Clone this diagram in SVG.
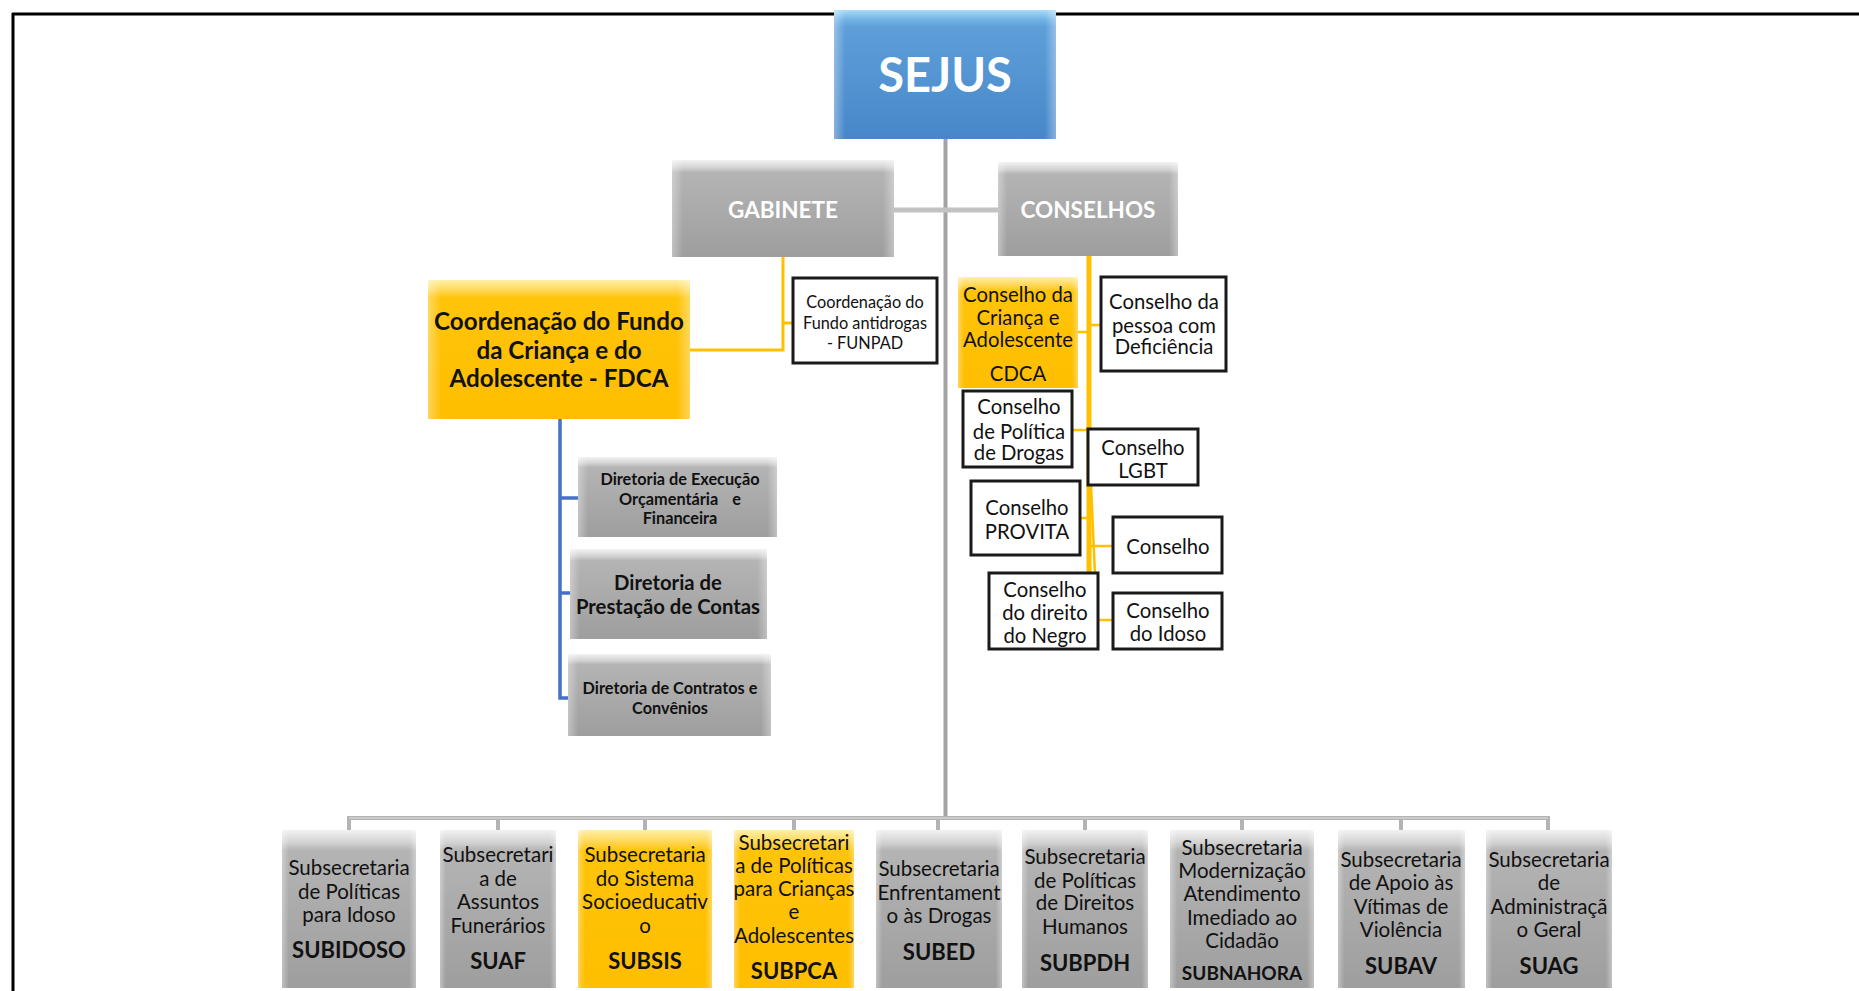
<svg xmlns="http://www.w3.org/2000/svg" width="1859" height="991" viewBox="0 0 1859 991">
<defs>
<linearGradient id="gGray" x1="0" y1="0" x2="0" y2="1">
<stop offset="0" stop-color="#f2f2f2"/>
<stop offset="0.08" stop-color="#d2d2d2"/>
<stop offset="0.13" stop-color="#b4b4b4"/>
<stop offset="1" stop-color="#9e9e9e"/>
</linearGradient>
<linearGradient id="gYel" x1="0" y1="0" x2="0" y2="1">
<stop offset="0" stop-color="#fff0a8"/>
<stop offset="0.08" stop-color="#ffd54f"/>
<stop offset="0.13" stop-color="#ffc409"/>
<stop offset="1" stop-color="#ffbe00"/>
</linearGradient>
<linearGradient id="gBlue" x1="0" y1="0" x2="0" y2="1">
<stop offset="0" stop-color="#a9dcf7"/>
<stop offset="0.07" stop-color="#75b5e6"/>
<stop offset="0.13" stop-color="#5e9fd9"/>
<stop offset="1" stop-color="#4787c9"/>
</linearGradient>
<linearGradient id="gEdge" x1="0" y1="0" x2="1" y2="0">
<stop offset="0" stop-color="#ffffff" stop-opacity="0.35"/>
<stop offset="0.05" stop-color="#ffffff" stop-opacity="0"/>
<stop offset="0.95" stop-color="#ffffff" stop-opacity="0"/>
<stop offset="1" stop-color="#ffffff" stop-opacity="0.35"/>
</linearGradient>
</defs>
<style>
.t{font-family:Lato,"Liberation Sans",sans-serif;fill:#111;text-anchor:middle}
.w{fill:#ffffff}
.b{font-weight:bold}
.s20{font-size:20.5px}
.s19{font-size:20.3px}
.s15{font-size:16.3px}
.sb22{font-size:22px;font-weight:bold}
.gray{fill:url(#gGray)}
.yel{fill:url(#gYel)}
.blue{fill:url(#gBlue)}
.edge{fill:url(#gEdge)}
.out{fill:#ffffff;stroke:#1a1a1a;stroke-width:3}
.cg{stroke:#a3a3a3;stroke-width:4;fill:none}
.cbus{stroke:#b3b3b3;stroke-width:4;fill:none}
.cy{stroke:#ffc000;stroke-width:3;fill:none}
.cyt{stroke:#ffc000;stroke-width:2.5;fill:none}
.cb{stroke:#4472c4;stroke-width:3.5;fill:none}
</style>
<rect x="0" y="0" width="1859" height="991" fill="#ffffff"/>
<g id="frame">
<line x1="12" y1="14" x2="1859" y2="14" stroke="#000" stroke-width="3"/>
<line x1="13" y1="13" x2="13" y2="991" stroke="#000" stroke-width="3"/>
</g>
<g id="connectors">
<line class="cg" x1="945.5" y1="139" x2="945.5" y2="818"/>
<line x1="894" y1="210" x2="998" y2="210" stroke="#c2c2c2" stroke-width="5"/>
<polyline class="cbus" points="349,830 349,818 1548,818 1548,830"/>
<line class="cbus" x1="498" y1="818" x2="498" y2="830"/>
<line class="cbus" x1="645" y1="818" x2="645" y2="830"/>
<line class="cbus" x1="794" y1="818" x2="794" y2="830"/>
<line class="cbus" x1="938" y1="818" x2="938" y2="830"/>
<line class="cbus" x1="1085" y1="818" x2="1085" y2="830"/>
<line class="cbus" x1="1242" y1="818" x2="1242" y2="830"/>
<line class="cbus" x1="1401" y1="818" x2="1401" y2="830"/>
<line stroke="#e3e3e3" stroke-width="1.2" x1="349" y1="818" x2="1548" y2="818"/>
<polyline class="cy" points="783,257 783,350 690,350"/>
<line class="cy" x1="783" y1="323" x2="793" y2="323"/>
<polyline class="cb" points="560,419 560,698 568,698"/>
<line class="cb" x1="560" y1="498" x2="578" y2="498"/>
<line class="cb" x1="560" y1="593" x2="570" y2="593"/>
<line stroke="#ffc000" stroke-width="5" x1="1089" y1="256" x2="1089" y2="573"/>
<polyline class="cyt" points="1091,485 1097,620"/>
<line class="cyt" x1="1078" y1="332" x2="1089" y2="332"/>
<line class="cyt" x1="1089" y1="325" x2="1101" y2="325"/>
<line class="cyt" x1="1072" y1="430" x2="1089" y2="430"/>
<line class="cyt" x1="1080" y1="518" x2="1089" y2="518"/>
<line class="cyt" x1="1089" y1="546" x2="1113" y2="546"/>
<line class="cyt" x1="1096" y1="620" x2="1113" y2="620"/>
</g>
<g id="sejus">
<rect class="blue" x="834" y="10" width="222" height="129"/>
<rect class="edge" x="834" y="10" width="222" height="129"/>
<text class="t w b" x="945" y="92" font-size="47">SEJUS</text>
</g>
<g id="gabinete">
<rect class="gray" x="672" y="160" width="222" height="97"/>
<rect class="edge" x="672" y="160" width="222" height="97"/>
<text class="t w b" x="783" y="218" font-size="22.5">GABINETE</text>
</g>
<g id="conselhos">
<rect class="gray" x="998" y="162" width="180" height="94"/>
<rect class="edge" x="998" y="162" width="180" height="94"/>
<text class="t w b" x="1088" y="218" font-size="22.5">CONSELHOS</text>
</g>
<g id="fdca">
<rect class="yel" x="428" y="280" width="262" height="139"/>
<rect class="edge" x="428" y="280" width="262" height="139"/>
<text class="t b" font-size="24.2" x="559" y="330">Coordenação do Fundo</text>
<text class="t b" font-size="24.2" x="559" y="359">da Criança e do</text>
<text class="t b" font-size="24.2" x="559" y="387">Adolescente - FDCA</text>
</g>
<g id="funpad">
<rect class="out" x="793" y="278" width="144" height="85"/>
<text class="t s15" x="865" y="308">Coordenação do</text>
<text class="t s15" x="865" y="329">Fundo antidrogas</text>
<text class="t s15" x="865" y="349">- FUNPAD</text>
</g>
<g id="dir-execucao">
<rect class="gray" x="578" y="457" width="199" height="80"/>
<rect class="edge" x="578" y="457" width="199" height="80"/>
<text class="t b s15" x="680" y="485">Diretoria de Execução</text>
<text class="t b s15" x="680" y="505" word-spacing="10">Orçamentária e</text>
<text class="t b s15" x="680" y="524">Financeira</text>
</g>
<g id="dir-prestacao">
<rect class="gray" x="570" y="549" width="197" height="90"/>
<rect class="edge" x="570" y="549" width="197" height="90"/>
<text class="t b" font-size="20.3" x="668" y="590">Diretoria de</text>
<text class="t b" font-size="20.3" x="668" y="614">Prestação de Contas</text>
</g>
<g id="dir-contratos">
<rect class="gray" x="568" y="654" width="203" height="82"/>
<rect class="edge" x="568" y="654" width="203" height="82"/>
<text class="t b s15" x="670" y="694">Diretoria de Contratos e</text>
<text class="t b s15" x="670" y="714">Convênios</text>
</g>
<g id="cdca">
<rect class="yel" x="958" y="277" width="120" height="111"/>
<rect class="edge" x="958" y="277" width="120" height="111"/>
<text class="t s19" x="1018" y="302">Conselho da</text>
<text class="t s19" x="1018" y="325">Criança e</text>
<text class="t s19" x="1018" y="347">Adolescente</text>
<text class="t s19" x="1018" y="381">CDCA</text>
</g>
<g id="deficiencia">
<rect class="out" x="1101" y="277" width="125" height="94"/>
<text class="t s19" x="1164" y="309">Conselho da</text>
<text class="t s19" x="1164" y="333">pessoa com</text>
<text class="t s19" x="1164" y="354">Deficiência</text>
</g>
<g id="drogas">
<rect class="out" x="963" y="391" width="109" height="76"/>
<text class="t s19" x="1019" y="414">Conselho</text>
<text class="t s19" x="1019" y="439">de Política</text>
<text class="t s19" x="1019" y="460">de Drogas</text>
</g>
<g id="lgbt">
<rect class="out" x="1088" y="429" width="110" height="56"/>
<text class="t s19" x="1143" y="455">Conselho</text>
<text class="t s19" x="1143" y="478">LGBT</text>
</g>
<g id="provita">
<rect class="out" x="971" y="481" width="109" height="74"/>
<text class="t s19" x="1027" y="515">Conselho</text>
<text class="t s19" x="1027" y="539">PROVITA</text>
</g>
<g id="conselho">
<rect class="out" x="1113" y="517" width="109" height="56"/>
<text class="t s19" x="1168" y="554">Conselho</text>
</g>
<g id="negro">
<rect class="out" x="989" y="573" width="109" height="76"/>
<text class="t s19" x="1045" y="597">Conselho</text>
<text class="t s19" x="1045" y="620">do direito</text>
<text class="t s19" x="1045" y="643">do Negro</text>
</g>
<g id="idoso">
<rect class="out" x="1113" y="593" width="109" height="56"/>
<text class="t s19" x="1168" y="618">Conselho</text>
<text class="t s19" x="1168" y="641">do Idoso</text>
</g>
<g id="subidoso">
<rect class="gray" x="282" y="830" width="134" height="158"/>
<rect class="edge" x="282" y="830" width="134" height="158"/>
<text class="t s20" x="349" y="875">Subsecretaria</text>
<text class="t s20" x="349" y="899">de Políticas</text>
<text class="t s20" x="349" y="922">para Idoso</text>
<text class="t sb22" x="349" y="958">SUBIDOSO</text>
</g>
<g id="suaf">
<rect class="gray" x="440" y="830" width="116" height="158"/>
<rect class="edge" x="440" y="830" width="116" height="158"/>
<text class="t s20" x="498" y="862">Subsecretari</text>
<text class="t s20" x="498" y="886">a de</text>
<text class="t s20" x="498" y="909">Assuntos</text>
<text class="t s20" x="498" y="933">Funerários</text>
<text class="t sb22" x="498" y="969">SUAF</text>
</g>
<g id="subsis">
<rect class="yel" x="578" y="830" width="134" height="158"/>
<rect class="edge" x="578" y="830" width="134" height="158"/>
<text class="t s20" x="645" y="862">Subsecretaria</text>
<text class="t s20" x="645" y="886">do Sistema</text>
<text class="t s20" x="645" y="909">Socioeducativ</text>
<text class="t s20" x="645" y="933">o</text>
<text class="t sb22" x="645" y="969">SUBSIS</text>
</g>
<g id="subpca">
<rect class="yel" x="734" y="830" width="120" height="158"/>
<rect class="edge" x="734" y="830" width="120" height="158"/>
<text class="t s20" x="794" y="850">Subsecretari</text>
<text class="t s20" x="794" y="873">a de Políticas</text>
<text class="t s20" x="794" y="896">para Crianças</text>
<text class="t s20" x="794" y="919">e</text>
<text class="t s20" x="794" y="943">Adolescentes</text>
<text class="t sb22" x="794" y="979">SUBPCA</text>
</g>
<g id="subed">
<rect class="gray" x="876" y="830" width="126" height="158"/>
<rect class="edge" x="876" y="830" width="126" height="158"/>
<text class="t s20" x="939" y="876">Subsecretaria</text>
<text class="t s20" x="939" y="900">Enfrentament</text>
<text class="t s20" x="939" y="923">o às Drogas</text>
<text class="t sb22" x="939" y="960">SUBED</text>
</g>
<g id="subpdh">
<rect class="gray" x="1022" y="830" width="126" height="158"/>
<rect class="edge" x="1022" y="830" width="126" height="158"/>
<text class="t s20" x="1085" y="864">Subsecretaria</text>
<text class="t s20" x="1085" y="888">de Políticas</text>
<text class="t s20" x="1085" y="910">de Direitos</text>
<text class="t s20" x="1085" y="934">Humanos</text>
<text class="t sb22" x="1085" y="971">SUBPDH</text>
</g>
<g id="subnahora">
<rect class="gray" x="1170" y="830" width="144" height="158"/>
<rect class="edge" x="1170" y="830" width="144" height="158"/>
<text class="t s20" x="1242" y="855">Subsecretaria</text>
<text class="t s20" x="1242" y="878">Modernização</text>
<text class="t s20" x="1242" y="901">Atendimento</text>
<text class="t s20" x="1242" y="925">Imediado ao</text>
<text class="t s20" x="1242" y="948">Cidadão</text>
<text class="t b" font-size="19" x="1242" y="980">SUBNAHORA</text>
</g>
<g id="subav">
<rect class="gray" x="1338" y="830" width="127" height="158"/>
<rect class="edge" x="1338" y="830" width="127" height="158"/>
<text class="t s20" x="1401" y="867">Subsecretaria</text>
<text class="t s20" x="1401" y="890">de Apoio às</text>
<text class="t s20" x="1401" y="914">Vítimas de</text>
<text class="t s20" x="1401" y="937">Violência</text>
<text class="t sb22" x="1401" y="974">SUBAV</text>
</g>
<g id="suag">
<rect class="gray" x="1486" y="830" width="126" height="158"/>
<rect class="edge" x="1486" y="830" width="126" height="158"/>
<text class="t s20" x="1549" y="867">Subsecretaria</text>
<text class="t s20" x="1549" y="890">de</text>
<text class="t s20" x="1549" y="914">Administraçã</text>
<text class="t s20" x="1549" y="937">o Geral</text>
<text class="t sb22" x="1549" y="974">SUAG</text>
</g>
</svg>
